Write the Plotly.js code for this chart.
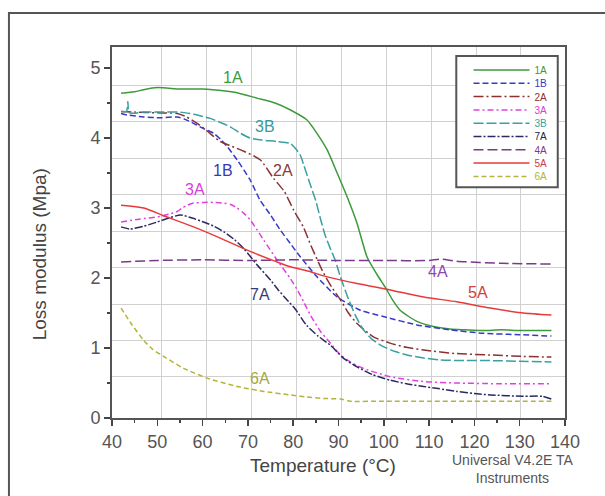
<!DOCTYPE html>
<html>
<head>
<meta charset="utf-8">
<script src="https://cdn.plot.ly/plotly-3.0.1.min.js"></script>
<style>html,body{margin:0;padding:0;background:#fff;}#chart{width:605px;height:496px;}</style>
</head>
<body>
<div id="chart"></div>
<script>
// ---- data ----
var seriesNames = ["1A", "1B", "2A", "3A", "3B", "7A", "4A", "5A", "6A"];

var temp1A = [42, 45, 47, 50, 55, 60, 65, 68, 72, 76, 79.4, 83, 85.2, 87.5, 89.7, 91.9, 94.1, 96.3, 98.5, 100.3, 102, 103.6, 105.5, 107.3, 110, 114.6, 118, 122, 126, 130, 137];
var loss1A = [4.64, 4.66, 4.69, 4.72, 4.70, 4.70, 4.67, 4.64, 4.57, 4.50, 4.40, 4.26, 4.07, 3.83, 3.50, 3.16, 2.78, 2.30, 2.05, 1.87, 1.68, 1.54, 1.45, 1.38, 1.32, 1.27, 1.26, 1.25, 1.26, 1.25, 1.25];

var temp1B = [42, 43.3, 47, 50.7, 54.4, 56, 58, 60, 62.4, 64, 65.4, 67.6, 70.5, 72.7, 75, 77.1, 79.4, 81.6, 85.2, 89.7, 94.8, 99.9, 107.3, 114.6, 122, 130, 137];
var loss1B = [4.35, 4.33, 4.30, 4.29, 4.30, 4.27, 4.21, 4.14, 4.07, 3.98, 3.88, 3.69, 3.40, 3.11, 2.90, 2.69, 2.49, 2.30, 2.02, 1.73, 1.54, 1.45, 1.33, 1.26, 1.21, 1.19, 1.17];

var temp2A = [42, 45, 50, 54.4, 56.5, 58.8, 61, 63.9, 66.5, 69.1, 72.7, 75.7, 78, 80.1, 82.3, 84, 86.7, 88.5, 90.4, 92.2, 94.1, 97.7, 101.4, 105, 108.8, 116.1, 123.5, 130.8, 137];
var loss2A = [4.38, 4.37, 4.36, 4.35, 4.30, 4.21, 4.10, 3.95, 3.88, 3.81, 3.69, 3.42, 3.24, 2.97, 2.72, 2.45, 2.07, 1.87, 1.69, 1.50, 1.35, 1.16, 1.07, 1.01, 0.97, 0.92, 0.90, 0.88, 0.87];

var temp3A = [42, 46, 50.7, 52.5, 54.4, 55.5, 56.6, 58, 60.2, 62.5, 64.7, 66.2, 67.6, 69, 70.5, 72, 73.5, 76.4, 79.4, 81, 82.3, 83.8, 86, 88.2, 90, 91.9, 94, 96.3, 101.4, 108.8, 116.1, 125, 137];
var loss3A = [2.80, 2.84, 2.88, 2.91, 2.95, 3.00, 3.04, 3.07, 3.08, 3.08, 3.07, 3.05, 3.00, 2.93, 2.83, 2.69, 2.54, 2.26, 1.99, 1.82, 1.66, 1.47, 1.24, 1.07, 0.93, 0.83, 0.75, 0.69, 0.59, 0.52, 0.50, 0.49, 0.49];

var temp3B = [42, 43.2, 43.5, 43.8, 47, 50, 55, 58, 61.7, 64, 66.1, 68.3, 70.5, 73, 76.4, 79.4, 80.5, 81.6, 82.3, 83.8, 85, 86, 87, 88.2, 89.3, 90.4, 92.2, 93.7, 95.5, 97.5, 99.9, 102.5, 105.1, 108.5, 112.4, 118, 123.5, 130, 137];
var loss3B = [4.38, 4.38, 4.52, 4.36, 4.37, 4.37, 4.37, 4.34, 4.28, 4.22, 4.16, 4.07, 4.00, 3.97, 3.95, 3.92, 3.85, 3.75, 3.62, 3.33, 3.10, 2.85, 2.62, 2.42, 2.25, 2.02, 1.70, 1.47, 1.26, 1.12, 1.02, 0.95, 0.90, 0.86, 0.83, 0.82, 0.82, 0.81, 0.80];

var temp7A = [42, 44, 47, 50, 52.2, 55.1, 57.5, 60.2, 62.5, 64.7, 67, 69.1, 72, 75, 76.7, 78.6, 80.4, 83, 85.5, 88.2, 91, 94.1, 97.5, 101.4, 105, 108.8, 112, 116.1, 120, 123.5, 130.8, 135, 137];
var loss7A = [2.73, 2.70, 2.74, 2.80, 2.85, 2.90, 2.86, 2.80, 2.74, 2.66, 2.55, 2.42, 2.19, 1.97, 1.83, 1.69, 1.56, 1.32, 1.17, 1.04, 0.86, 0.73, 0.62, 0.54, 0.49, 0.45, 0.42, 0.38, 0.35, 0.33, 0.31, 0.31, 0.27];

var temp4A = [42, 50, 60, 70, 80, 90, 100, 110, 112.5, 116, 126, 137];
var loss4A = [2.23, 2.25, 2.26, 2.25, 2.26, 2.25, 2.25, 2.25, 2.27, 2.24, 2.21, 2.20];

var temp5A = [42, 47, 51.4, 58, 63.9, 70.5, 76.4, 79.4, 83.8, 86.7, 94.1, 101.4, 108.8, 116.1, 123.5, 130.8, 137];
var loss5A = [3.04, 3.00, 2.89, 2.73, 2.57, 2.38, 2.23, 2.16, 2.09, 2.03, 1.92, 1.83, 1.73, 1.66, 1.57, 1.50, 1.47];

var temp6A = [42, 44.1, 47, 49, 51.4, 55.8, 61, 67.6, 73.5, 79.4, 83, 86.7, 90.5, 92.6, 100, 110, 120, 130, 137];
var loss6A = [1.57, 1.36, 1.11, 0.98, 0.88, 0.71, 0.57, 0.45, 0.38, 0.33, 0.30, 0.28, 0.27, 0.24, 0.24, 0.24, 0.24, 0.24, 0.24];

// curve labels (data positions)
var labelText = ["1A", "3B", "1B", "2A", "3A", "4A", "5A", "7A", "6A"];
var labelTemp = [66.8, 73.8, 64.4, 77.8, 58.4, 112.0, 120.8, 72.7, 72.7];
var labelLoss = [4.86, 4.16, 3.54, 3.54, 3.26, 2.10, 1.80, 1.76, 0.57];

var xTicks = [40, 50, 60, 70, 80, 90, 100, 110, 120, 130, 140];
var yTicks = [0, 1, 2, 3, 4, 5];

// ---- styles ----
var temps = [temp1A, temp1B, temp2A, temp3A, temp3B, temp7A, temp4A, temp5A, temp6A];
var losses = [loss1A, loss1B, loss2A, loss3A, loss3B, loss7A, loss4A, loss5A, loss6A];
var colors = ["#3c9a3c", "#3838c8", "#8a3232", "#e040e0", "#3aa0a0", "#2a2a62", "#7a3a8a", "#e83a3a", "#b4b43c"];
var textColors = ["#3c9a3c", "#3838c8", "#8a3232", "#d840d8", "#3aa0a0", "#222244", "#7a3a8a", "#c84040", "#b4b43c"];
var dashes = ["solid", "6px,3px", "10px,3px,2px,3px", "6px,3px,2px,3px", "10px,3px", "8px,2px,2px,2px", "10px,4px", "solid", "5px,3px"];
var labelColors = {"1A": "#3c9a3c", "3B": "#3a9a9a", "1B": "#3838b8", "2A": "#8a3a3a", "3A": "#d840d8", "4A": "#8a4aaa", "5A": "#d04040", "7A": "#3a3a7a", "6A": "#a8a840"};

var FONT = "Liberation Sans, Arial, sans-serif";
var traces = [];
var legends = {};
var rowH = 13.3 / 371;
for (var i = 0; i < seriesNames.length; i++) {
  var lg = i === 0 ? "legend" : "legend" + (i + 1);
  traces.push({
    x: temps[i], y: losses[i], type: "scatter", mode: "lines",
    name: '<span style="color:' + textColors[i] + '">' + seriesNames[i] + '</span>',
    line: {color: colors[i], width: 1.5, dash: dashes[i], shape: "spline", smoothing: 0.6},
    legend: lg, xaxis: "x", yaxis: "y"
  });
  legends[lg] = {
    x: 0.787, y: (418 - 70) / 371 - i * rowH, xanchor: "left", yanchor: "middle",
    bgcolor: "rgba(0,0,0,0)", borderwidth: 0, itemwidth: 56,
    font: {family: FONT, size: 10, color: "#333"}
  };
}
// empty trace so the grid-only overlay axes get drawn
traces.push({x: [], y: [], type: "scatter", mode: "lines", xaxis: "x2", yaxis: "y2", showlegend: false, hoverinfo: "skip"});

var annotations = [];
for (var j = 0; j < labelText.length; j++) {
  annotations.push({
    x: labelTemp[j], y: labelLoss[j], xref: "x", yref: "y", text: labelText[j], showarrow: false,
    xanchor: "center", yanchor: "middle",
    font: {family: FONT, size: 16, color: labelColors[labelText[j]]}
  });
}
annotations.push({
  xref: "paper", yref: "paper", x: 0.466, y: -0.127, xanchor: "center", yanchor: "middle",
  text: "Temperature (°C)", showarrow: false,
  font: {family: FONT, size: 19, color: "#444"}
});
annotations.push({
  xref: "paper", yref: "paper", x: -0.16, y: 0.44, xanchor: "center", yanchor: "middle",
  text: "Loss modulus (Mpa)", showarrow: false, textangle: -90,
  font: {family: FONT, size: 19, color: "#444"}
});
annotations.push({
  xref: "paper", yref: "paper", x: 0.885, y: -0.137, xanchor: "center", yanchor: "middle",
  text: "Universal V4.2E TA<br>Instruments", showarrow: false,
  font: {family: FONT, size: 14, color: "#555"}
});

// grid lines (independent of tick marks in the original)
var gridX = [], gridY = [];
for (var k = 0; k < 9; k++) { gridX.push(51.0 + 9.91 * k); gridY.push(0.586 + 0.521 * k); }

var tickFont = {family: FONT, size: 18, color: "#555"};
var layout = Object.assign({
  width: 605, height: 496,
  margin: {l: 112, r: 40, t: 47, b: 78},
  paper_bgcolor: "#fff", plot_bgcolor: "#fff",
  showlegend: true,
  xaxis: {
    range: [40, 140], tickmode: "array", tickvals: xTicks, ticktext: xTicks.map(String),
    ticks: "outside", ticklen: 6, tickwidth: 1.5, tickcolor: "#444",
    showgrid: false, zeroline: false, showline: true, mirror: true, linecolor: "#555", linewidth: 2,
    tickfont: tickFont,
    minor: {tickmode: "linear", tick0: 45, dtick: 10, ticks: "outside", ticklen: 3, tickcolor: "#444", showgrid: false}
  },
  yaxis: {
    range: [0, 5.3], tickmode: "array", tickvals: yTicks, ticktext: yTicks.map(String),
    ticks: "outside", ticklen: 6, tickwidth: 1.5, tickcolor: "#444",
    showgrid: false, zeroline: false, showline: true, mirror: true, linecolor: "#555", linewidth: 2,
    tickfont: tickFont,
    minor: {tickmode: "linear", tick0: 0.5, dtick: 1, ticks: "outside", ticklen: 3, tickcolor: "#444", showgrid: false}
  },
  xaxis2: {
    overlaying: "x", anchor: "y2", range: [40, 140], tickmode: "array", tickvals: gridX,
    showticklabels: false, ticks: "", showgrid: true, gridcolor: "#d0d0d0", gridwidth: 1, zeroline: false, showline: false
  },
  yaxis2: {
    overlaying: "y", anchor: "x2", range: [0, 5.3], tickmode: "array", tickvals: gridY,
    showticklabels: false, ticks: "", showgrid: true, gridcolor: "#d0d0d0", gridwidth: 1, zeroline: false, showline: false
  },
  annotations: annotations,
  shapes: [
    {type: "rect", xref: "paper", yref: "paper", x0: 0.760, x1: 0.984, y0: 0.622, y1: 0.976,
     line: {color: "#555", width: 2}, fillcolor: "#fff", layer: "above"},
    {type: "rect", xref: "paper", yref: "paper", x0: -0.2275, x1: 1.12, y0: -0.25, y1: 1.0916,
     line: {color: "#555", width: 2}, fillcolor: "rgba(0,0,0,0)", layer: "below"}
  ]
}, legends);

Plotly.newPlot("chart", traces, layout, {displayModeBar: false, staticPlot: true});
</script>
</body>
</html>
